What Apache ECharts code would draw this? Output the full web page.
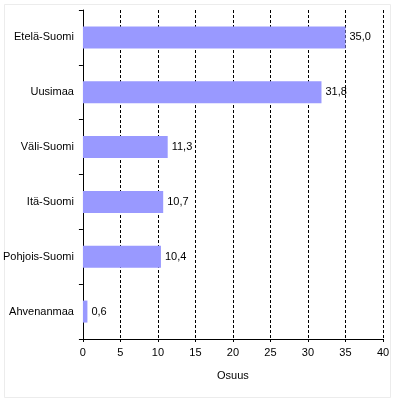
<!DOCTYPE html>
<html>
<head>
<meta charset="utf-8">
<script src="https://cdn.jsdelivr.net/npm/echarts@6/dist/echarts.min.js"></script>
<style>
html,body{margin:0;padding:0;background:#fff;}
#c{width:396px;height:403px;}
</style>
</head>
<body>
<div id="c"></div>
<script>
var categories = ['Etelä-Suomi', 'Uusimaa', 'Väli-Suomi', 'Itä-Suomi', 'Pohjois-Suomi', 'Ahvenanmaa'];
var values = [35.0, 31.8, 11.3, 10.7, 10.4, 0.6];
var axisName = 'Osuus';

var chart = echarts.init(document.getElementById('c'));
var font = 'Liberation Sans, Arial, sans-serif';
chart.setOption({
  backgroundColor: '#fff',
  animation: false,
  graphic: [{
    type: 'rect',
    shape: { x: 4.5, y: 4.5, width: 386, height: 393 },
    style: { fill: 'none', stroke: '#ececec', lineWidth: 1 },
    silent: true
  }],
  grid: { left: 82, right: 13, top: 10, bottom: 64 },
  xAxis: {
    type: 'value',
    min: 0, max: 40, interval: 5,
    name: axisName,
    nameLocation: 'middle',
    nameGap: 31,
    nameTextStyle: { color: '#000', fontSize: 11, fontFamily: font },
    axisLine: { show: true, lineStyle: { color: '#000', width: 1 } },
    axisTick: { show: true, length: 3, lineStyle: { color: '#000' } },
    axisLabel: { color: '#000', fontSize: 11, fontFamily: font, margin: 8 },
    splitLine: { show: true, lineStyle: { color: '#000', type: [3, 2], width: 1 } }
  },
  yAxis: {
    type: 'category',
    data: categories,
    inverse: true,
    axisLine: { show: true, lineStyle: { color: '#000', width: 1 } },
    axisTick: { show: true, length: 4, lineStyle: { color: '#000' } },
    axisLabel: { color: '#000', fontSize: 11, fontFamily: font, margin: 9 },
    splitLine: { show: false }
  },
  series: [{
    type: 'bar',
    data: values,
    barWidth: 22,
    itemStyle: { color: '#9999FF' },
    label: {
      show: true,
      position: 'right',
      distance: 4,
      color: '#000',
      fontSize: 11,
      fontFamily: font,
      formatter: function (p) { return p.value.toFixed(1).replace('.', ','); }
    }
  }]
});
</script>
</body>
</html>
